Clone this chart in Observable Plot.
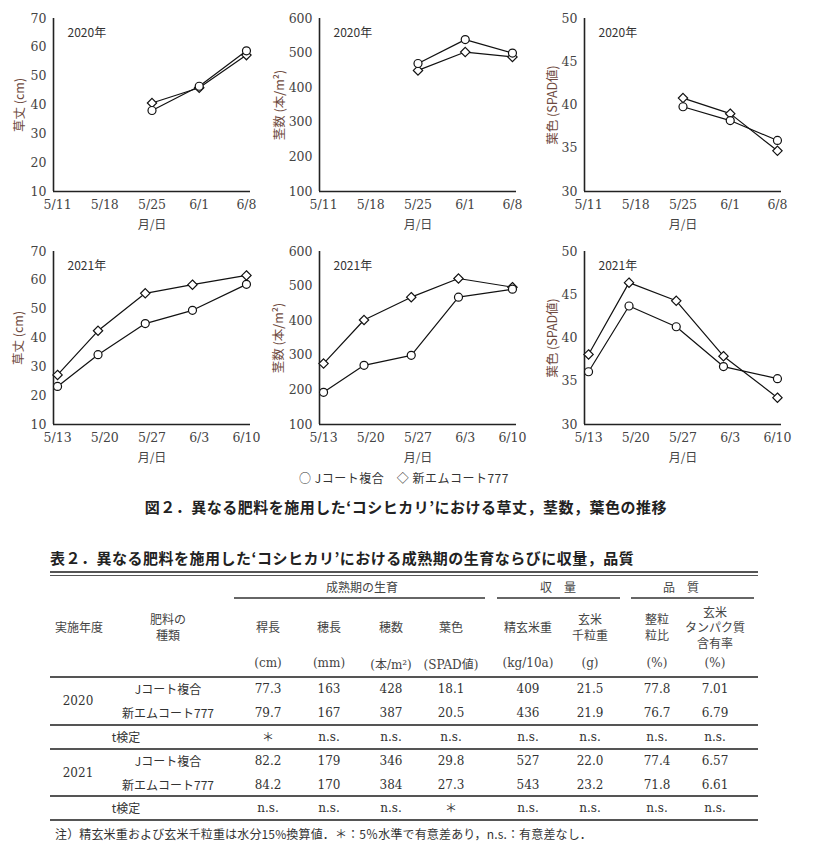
<!DOCTYPE html>
<html><head><meta charset="utf-8">
<script src="https://cdn.jsdelivr.net/npm/d3@7"></script>
<script src="https://cdn.jsdelivr.net/npm/@observablehq/plot@0.6"></script>
<style>
body{margin:0;background:#fff;}
#page{position:relative;width:815px;height:859px;overflow:hidden;font-family:"Noto Sans CJK JP",sans-serif;color:#333;}
.abs{position:absolute;white-space:nowrap;}
.c{transform:translate(-50%,-50%);text-align:center;}
.l{transform:translate(0,-50%);}
.num{font-family:"DejaVu Serif","Noto Sans CJK JP",serif;font-size:12px;}
.jp{font-family:"Noto Sans CJK JP",sans-serif;font-size:12px;line-height:14px;}
</style></head><body><div id="page"></div>
<script>
// ---- chart data ----
const series = ["Jコート複合", "新エムコート777"];
const dates2020 = ["2020-05-25", "2020-06-01", "2020-06-08"];
const ticks2020 = ["2020-05-11", "2020-05-18", "2020-05-25", "2020-06-01", "2020-06-08"];
const dates2021 = ["2021-05-13", "2021-05-19", "2021-05-26", "2021-06-02", "2021-06-10"];
const ticks2021 = ["2021-05-13", "2021-05-20", "2021-05-27", "2021-06-03", "2021-06-10"];

const height2020J = [38.1, 46.5, 58.8];
const height2020M = [40.7, 46.0, 57.3];
const tillers2020J = [470, 539, 500];
const tillers2020M = [450, 503, 489];
const spad2020J = [39.8, 38.2, 35.9];
const spad2020M = [40.8, 39.0, 34.7];

const height2021J = [23.2, 34.2, 45.0, 49.6, 58.6];
const height2021M = [27.2, 42.5, 55.5, 58.5, 61.7];
const tillers2021J = [193, 271, 300, 468, 491];
const tillers2021M = [276, 402, 468, 522, 497];
const spad2021J = [36.1, 43.7, 41.3, 36.7, 35.3];
const spad2021M = [38.1, 46.4, 44.3, 37.9, 33.1];

const heightTicks = [10, 20, 30, 40, 50, 60, 70];
const tillerTicks = [100, 200, 300, 400, 500, 600];
const spadTicks = [30, 35, 40, 45, 50];
const yLabels = ["草丈 (cm)", "茎数 (本/m²)", "葉色 (SPAD値)"];
const yearLabels = ["2020年", "2021年"];
const xLabel = "月/日";

// ---- table data ----
const tableGroups = ["成熟期の生育", "収　量", "品　質"];
const fertHeader = ["肥料の", "種類"];
const tableHeaders = [["稈長"], ["穂長"], ["穂数"], ["葉色"], ["精玄米重"], ["玄米", "千粒重"], ["整粒", "粒比"], ["玄米", "タンパク質", "含有率"]];
const tableUnits = ["(cm)", "(mm)", "(本/m²)", "(SPAD値)", "(kg/10a)", "(g)", "(%)", "(%)"];
const years = ["2020", "2021"];
const row2020J = ["77.3", "163", "428", "18.1", "409", "21.5", "77.8", "7.01"];
const row2020M = ["79.7", "167", "387", "20.5", "436", "21.9", "76.7", "6.79"];
const ttest2020 = ["＊", "n.s.", "n.s.", "n.s.", "n.s.", "n.s.", "n.s.", "n.s."];
const row2021J = ["82.2", "179", "346", "29.8", "527", "22.0", "77.4", "6.57"];
const row2021M = ["84.2", "170", "384", "27.3", "543", "23.2", "71.8", "6.61"];
const ttest2021 = ["n.s.", "n.s.", "n.s.", "＊", "n.s.", "n.s.", "n.s.", "n.s."];

const page = document.getElementById("page");
const parse = s => new Date(s + "T00:00:00Z");
const DAY = 864e5;
const fmt = d => `${d.getUTCMonth() + 1}/${d.getUTCDate()}`;

function chart({dates, ticks, J, M, yTicks, yLabel, year, labelDx, left, top}) {
  const t = ticks.map(parse);
  const dJ = dates.map((d, i) => ({date: parse(d), v: J[i], s: series[0]}));
  const dM = dates.map((d, i) => ({date: parse(d), v: M[i], s: series[1]}));
  const ydom = [yTicks[0], yTicks[yTicks.length - 1]];
  const xdom = [new Date(+t[0] - 0.6 * DAY), new Date(+t[t.length - 1] + 0.6 * DAY)];
  const svg = Plot.plot({
    width: 270, height: 235,
    marginLeft: 53, marginRight: 20, marginTop: 18, marginBottom: 44,
    style: {background: "transparent", color: "#444", overflow: "visible", fontFamily: "DejaVu Serif"},
    x: {type: "utc", domain: xdom},
    y: {domain: ydom},
    marks: [
      Plot.axisX({ticks: t, tickFormat: fmt, tickSize: 0, tickPadding: 9, fontSize: 12.5, fontFamily: "DejaVu Serif", fill: "#444", label: null}),
      Plot.axisY({ticks: yTicks, tickSize: 0, tickPadding: 7, fontSize: 12.5, fontFamily: "DejaVu Serif", fill: "#444", label: null}),
      Plot.ruleX([xdom[0]], {stroke: "#222", strokeWidth: 1.6}),
      Plot.ruleY([ydom[0]], {stroke: "#222", strokeWidth: 1.6}),
      Plot.line(dM, {x: "date", y: "v", stroke: "#111", strokeWidth: 1.2}),
      Plot.line(dJ, {x: "date", y: "v", stroke: "#111", strokeWidth: 1.2}),
      Plot.dot(dM, {x: "date", y: "v", symbol: "diamond2", r: 4.2, fill: "white", stroke: "#111", strokeWidth: 1.2}),
      Plot.dot(dJ, {x: "date", y: "v", symbol: "circle", r: 4, fill: "white", stroke: "#111", strokeWidth: 1.2}),
      Plot.text([yLabel], {text: d => d, frameAnchor: "left", textAnchor: "middle", lineAnchor: "middle", rotate: -90, dx: -labelDx, fontFamily: "Noto Sans CJK JP", fontSize: 12.5, fill: "#6e4a40"}),
      Plot.text([year], {text: d => d, frameAnchor: "top-left", textAnchor: "start", lineAnchor: "middle", dx: 14, dy: 15, fontFamily: "Noto Sans CJK JP", fontSize: 12, fill: "#333"}),
      Plot.text([xLabel], {text: d => d, frameAnchor: "bottom", textAnchor: "middle", lineAnchor: "middle", dy: 34, fontFamily: "Noto Sans CJK JP", fontSize: 12, fill: "#444"})
    ]
  });
  svg.style.position = "absolute";
  svg.style.left = left + "px";
  svg.style.top = top + "px";
  page.appendChild(svg);
}

const cols = [0, 266, 531];
const rows = [0, 233];
chart({dates: dates2020, ticks: ticks2020, J: height2020J, M: height2020M, yTicks: heightTicks, yLabel: yLabels[0], year: yearLabels[0], labelDx: 34, left: cols[0], top: rows[0]});
chart({dates: dates2020, ticks: ticks2020, J: tillers2020J, M: tillers2020M, yTicks: tillerTicks, yLabel: yLabels[1], year: yearLabels[0], labelDx: 40, left: cols[1], top: rows[0]});
chart({dates: dates2020, ticks: ticks2020, J: spad2020J, M: spad2020M, yTicks: spadTicks, yLabel: yLabels[2], year: yearLabels[0], labelDx: 32, left: cols[2], top: rows[0]});
chart({dates: dates2021, ticks: ticks2021, J: height2021J, M: height2021M, yTicks: heightTicks, yLabel: yLabels[0], year: yearLabels[1], labelDx: 35, left: cols[0], top: rows[1]});
chart({dates: dates2021, ticks: ticks2021, J: tillers2021J, M: tillers2021M, yTicks: tillerTicks, yLabel: yLabels[1], year: yearLabels[1], labelDx: 41, left: cols[1], top: rows[1]});
chart({dates: dates2021, ticks: ticks2021, J: spad2021J, M: spad2021M, yTicks: spadTicks, yLabel: yLabels[2], year: yearLabels[1], labelDx: 32, left: cols[2], top: rows[1]});

// ---- html helpers ----
function put(text, x, y, cls, extra) {
  const el = document.createElement("div");
  el.className = "abs " + cls;
  el.style.left = x + "px";
  el.style.top = y + "px";
  if (extra) Object.assign(el.style, extra);
  el.textContent = text;
  page.appendChild(el);
  return el;
}
function putLines(lines, x, yCenter, step, cls, extra) {
  const y0 = yCenter - (lines.length - 1) * step / 2;
  lines.forEach((s, k) => put(s, x, y0 + k * step, cls, extra));
}
function hline(x1, x2, y, w, color) {
  const el = document.createElement("div");
  el.className = "abs";
  Object.assign(el.style, {left: x1 + "px", top: (y - w / 2) + "px", width: (x2 - x1) + "px", height: w + "px", background: color || "#555"});
  page.appendChild(el);
}

// legend + caption
put(`○ ${series[0]}　◇ ${series[1]}`, 404, 478, "c jp", {fontSize: "12px", color: "#333", letterSpacing: "0.5px"});
put("図２．異なる肥料を施用した‘コシヒカリ’における草丈，茎数，葉色の推移", 406, 506, "c", {fontSize: "15px", fontWeight: "bold", color: "#222", letterSpacing: "0.5px"});

// table
put("表２．異なる肥料を施用した‘コシヒカリ’における成熟期の生育ならびに収量，品質", 50, 557, "l", {fontSize: "15px", fontWeight: "bold", color: "#222", letterSpacing: "0.5px"});
hline(50, 758, 571.5, 2, "#555");
hline(50, 758, 575.5, 1, "#555");
const groupX = [362, 558, 681];
const groupLines = [[234, 485], [497, 620], [631, 754]];
tableGroups.forEach((g, i) => {
  put(g, groupX[i], 587, "c jp", {color: "#444"});
  hline(groupLines[i][0], groupLines[i][1], 598, 1.5, "#666");
});
const colX = [268, 329, 391, 451, 528, 590, 657, 715];
put("実施年度", 79, 627, "c jp", {color: "#444"});
putLines(fertHeader, 168, 627, 15.5, "c jp", {color: "#444"});
tableHeaders.forEach((h, i) => putLines(h, colX[i], 627, 15.5, "c jp", {color: "#444"}));
tableUnits.forEach((u, i) => put(u, colX[i], 663, "c num", {color: "#444"}));
hline(50, 758, 677, 1.5, "#555");

function dataRow(name, vals, y, nameX) {
  put(name, nameX, y, "c jp", {color: "#333"});
  vals.forEach((v, i) => put(v, colX[i], y, "c " + (v === "＊" ? "jp" : "num"), {color: "#333"}));
}
put(years[0], 78, 701, "c num", {color: "#333"});
dataRow(series[0], row2020J, 689, 168);
dataRow(series[1], row2020M, 713, 168);
hline(50, 758, 725, 1.5, "#555");
dataRow("t検定", ttest2020, 737, 126);
hline(50, 758, 749, 1.5, "#555");
put(years[1], 78, 773, "c num", {color: "#333"});
dataRow(series[0], row2021J, 761, 168);
dataRow(series[1], row2021M, 785, 168);
hline(50, 758, 796, 1.5, "#555");
dataRow("t検定", ttest2021, 808, 126);
hline(50, 758, 820, 1.5, "#555");
put("注）精玄米重および玄米千粒重は水分15%換算値．＊：5％水準で有意差あり，n.s.：有意差なし．", 55, 834, "l jp", {color: "#333", letterSpacing: "0.15px"});
</script>
</body></html>
